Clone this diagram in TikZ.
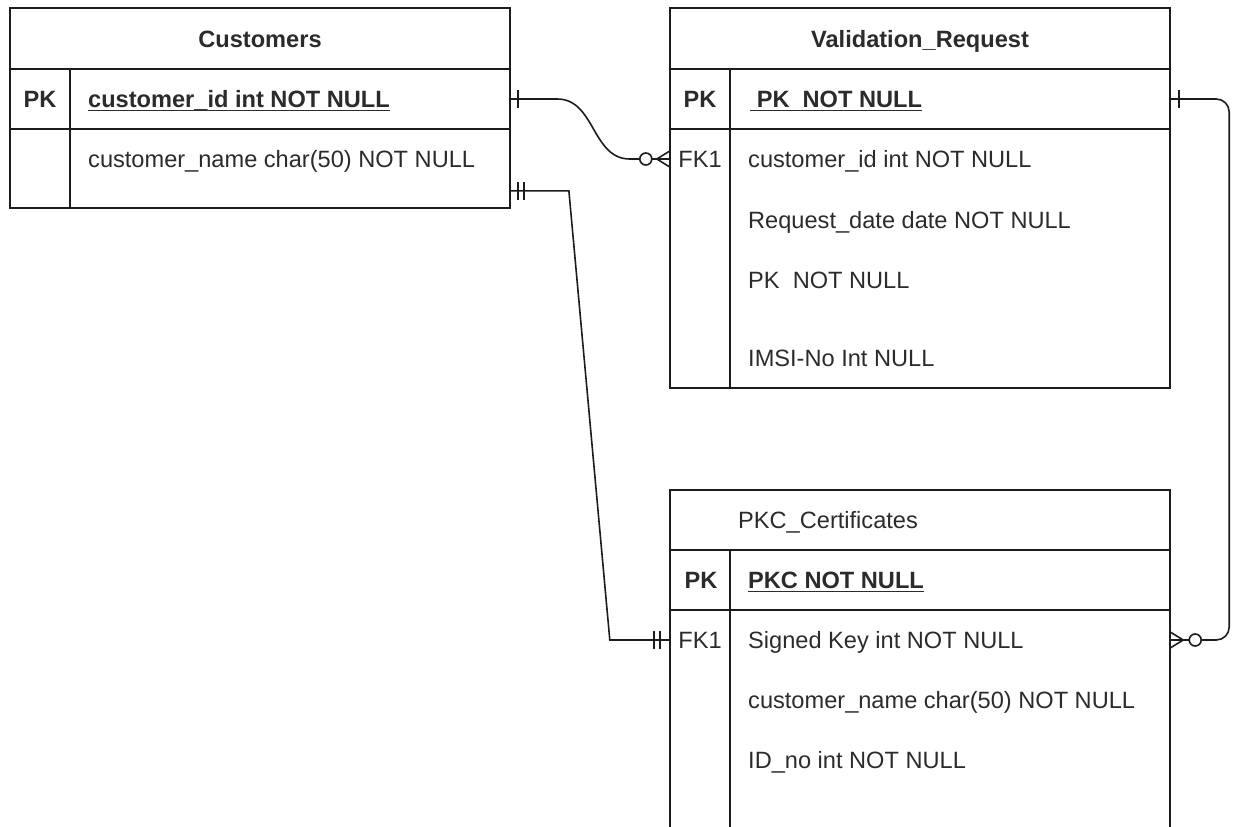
\documentclass[tikz,border=0pt]{standalone}
\usepackage{fontspec}
\setmainfont{Liberation Sans}
\usetikzlibrary{calc}
\definecolor{ink}{HTML}{1C1C1C}
\definecolor{txt}{HTML}{2B2B2B}
% underline drawn at a fixed depth below the baseline
\newcommand{\undl}[1]{\setbox0\hbox{#1}\rlap{\color{txt}\rule[-3.5pt]{\wd0}{1.4pt}}\box0}

\begin{document}
\begin{tikzpicture}[x=1pt,y=-1pt,
  every node/.style={font=\fontsize{23.6}{28}\selectfont, text=txt, inner sep=0pt},
  frame/.style={draw=ink, line width=1.8pt},
  conn/.style={draw=ink, line width=1.6pt},
  tablebox/.style={frame, minimum width=500pt},
  rowbox/.style={minimum width=500pt, minimum height=60pt},
  field/.style={anchor=base west, yshift=-8.5pt},
  keylbl/.style={anchor=base, yshift=-8.5pt},
  boldtxt/.style={font=\fontsize{23.6}{28}\selectfont\bfseries},
]
\useasboundingbox (0,0) rectangle (1237,827);
\clip (0,0) rectangle (1237,827);

% ---------- Customers ----------
\node[tablebox, minimum height=200pt] (cust) at (260,108) {};
\draw[frame] (10,69) -- (510,69);
\draw[frame] (10,129) -- (510,129);
\draw[frame] (70,69) -- (70,208);
\node[rowbox] (cust-pk) at (260,99) {};
\node[rowbox] (cust-nm) at (260,159) {};
\node[boldtxt, keylbl] (cust-title) at (260,39) {Customers};
\node[boldtxt, keylbl] (cust-pk-k) at (40,99) {PK};
\node[boldtxt, field] (cust-pk-f) at (88,99) {\undl{customer\_id int NOT NULL}};
\node[field] (cust-nm-f) at (88,159) {customer\_name char(50) NOT NULL};

% ---------- Validation_Request ----------
\node[tablebox, minimum height=380pt] (vr) at (920,198) {};
\draw[frame] (670,69) -- (1170,69);
\draw[frame] (670,129) -- (1170,129);
\draw[frame] (730,69) -- (730,388);
\node[rowbox] (vr-pk) at (920,99) {};
\node[rowbox] (vr-fk) at (920,159) {};
\node[boldtxt, keylbl] (vr-title) at (920,39) {Validation\_Request};
\node[boldtxt, keylbl] (vr-pk-k) at (700,99) {PK};
\node[boldtxt, field] (vr-pk-f) at (750,99) {\undl{\ PK\ \ NOT NULL}};
\node[keylbl] (vr-fk-k) at (700,159) {FK1};
\node[field] (vr-fk-f) at (748,159) {customer\_id int NOT NULL};
\node[field] (vr-f2) at (748,220) {Request\_date date NOT NULL};
\node[field] (vr-f3) at (748,280) {PK\ \ NOT NULL};
\node[field] (vr-f4) at (748,358) {IMSI-No Int NULL};

% ---------- PKC_Certificates ----------
\node[tablebox, minimum height=370pt] (pkc) at (920,675) {};
\draw[frame] (670,550) -- (1170,550);
\draw[frame] (670,610) -- (1170,610);
\draw[frame] (730,550) -- (730,860);
\node[rowbox] (pkc-pk) at (920,580) {};
\node[rowbox] (pkc-fk) at (920,640) {};
\node[field] (pkc-title) at (738,520) {PKC\_Certificates};
\node[boldtxt, keylbl] (pkc-pk-k) at (701,580) {PK};
\node[boldtxt, field] (pkc-pk-f) at (748,580) {\undl{PKC NOT NULL}};
\node[keylbl] (pkc-fk-k) at (700,640) {FK1};
\node[field] (pkc-fk-f) at (748,640) {Signed Key int NOT NULL};
\node[field] (pkc-f2) at (748,700) {customer\_name char(50) NOT NULL};
\node[field] (pkc-f3) at (748,760) {ID\_no int NOT NULL};

% ---------- Customers (one) -> Validation_Request (zero or many) ----------
\draw[conn] (cust-pk.east) -- ++(47,0)
  .. controls +(38,0) and +(-38,0) .. ($(vr-fk.west)+(-40,0)$) -- (vr-fk.west);
\draw[conn] ($(cust-pk.east)+(8,-9)$) -- ++(0,18);
\draw[conn] ($(vr-fk.west)+(0,-8)$) -- ($(vr-fk.west)+(-13,0)$) -- ($(vr-fk.west)+(0,8)$);
\draw[conn, fill=white] ($(vr-fk.west)+(-24,0)$) circle (6);

% ---------- Customers (one and only one) -> PKC_Certificates (one and only one) ----------
\coordinate (cust-out) at ($(cust.south east)+(0,-18)$);
\draw[conn] (cust-out) -- ++(58,0) -- ($(pkc-fk.west)+(-60,0)$) -- (pkc-fk.west);
\draw[conn] ($(cust-out)+(7,-9)$) -- ++(0,18);
\draw[conn] ($(cust-out)+(13,-9)$) -- ++(0,18);
\draw[conn] ($(pkc-fk.west)+(-16,-9)$) -- ++(0,18);
\draw[conn] ($(pkc-fk.west)+(-10,-9)$) -- ++(0,18);

% ---------- Validation_Request (one) -> PKC_Certificates (zero or many) ----------
\draw[conn, rounded corners=13pt] (vr-pk.east) -- ($(vr-pk.east)+(59,0)$)
  -- ($(pkc-fk.east)+(59,0)$) -- (pkc-fk.east);
\draw[conn] ($(vr-pk.east)+(9,-9)$) -- ++(0,18);
\draw[conn] ($(pkc-fk.east)+(0,-8)$) -- ($(pkc-fk.east)+(13,0)$) -- ($(pkc-fk.east)+(0,8)$);
\draw[conn, fill=white] ($(pkc-fk.east)+(25,0)$) circle (6);
\end{tikzpicture}
\end{document}
